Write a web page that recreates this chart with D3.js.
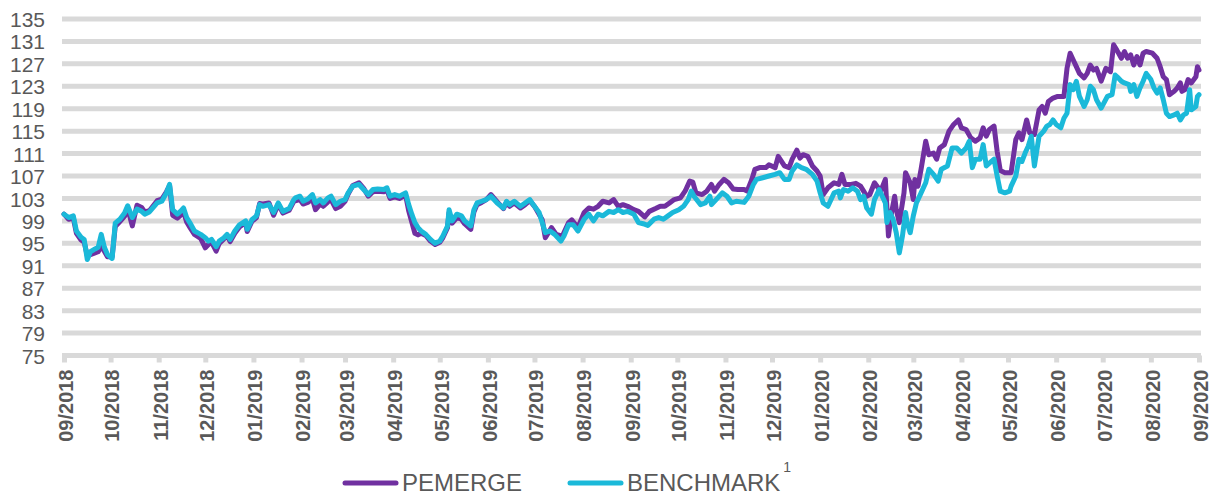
<!DOCTYPE html>
<html>
<head>
<meta charset="utf-8">
<script src="https://cdn.jsdelivr.net/npm/d3@7"></script>
<style>
  html, body { margin: 0; padding: 0; background: #fff; }
  svg { display: block; }
  text { font-family: "Liberation Sans", Arial, sans-serif; fill: #595959; }
</style>
</head>
<body>
<svg id="chart" width="1209" height="495"></svg>
<script>
// ---------------- DATA ----------------
const seriesNames = ["PEMERGE", "BENCHMARK"];
const yTickValues = [75, 79, 83, 87, 91, 95, 99, 103, 107, 111, 115, 119, 123, 127, 131, 135];
const xStart = "2018-09-01";
const xEnd = "2020-09-01";

const benchmarkDates = [
  "2018-09-01","2018-09-04","2018-09-07","2018-09-09","2018-09-12","2018-09-14","2018-09-16","2018-09-18","2018-09-21","2018-09-23","2018-09-25","2018-09-27","2018-09-29",
  "2018-10-02","2018-10-04","2018-10-07","2018-10-10","2018-10-12","2018-10-15","2018-10-18","2018-10-21","2018-10-23","2018-10-26","2018-10-31",
  "2018-11-03","2018-11-06","2018-11-08","2018-11-10","2018-11-13","2018-11-15","2018-11-17","2018-11-19","2018-11-21","2018-11-24","2018-11-28",
  "2018-12-01","2018-12-03","2018-12-05","2018-12-08","2018-12-10","2018-12-13","2018-12-15","2018-12-17","2018-12-20","2018-12-23","2018-12-27","2018-12-28","2018-12-31",
  "2019-01-03","2019-01-05","2019-01-07","2019-01-11","2019-01-14","2019-01-17","2019-01-20","2019-01-24","2019-01-27","2019-01-28","2019-01-31",
  "2019-02-02","2019-02-05","2019-02-08","2019-02-10","2019-02-13","2019-02-15","2019-02-18","2019-02-20","2019-02-23","2019-02-26",
  "2019-03-01","2019-03-03","2019-03-06","2019-03-10","2019-03-13","2019-03-16","2019-03-19","2019-03-22","2019-03-26","2019-03-28","2019-03-30",
  "2019-04-02","2019-04-05","2019-04-09","2019-04-11","2019-04-13","2019-04-15","2019-04-17","2019-04-19","2019-04-22","2019-04-25","2019-04-28",
  "2019-05-01","2019-05-03","2019-05-06","2019-05-07","2019-05-09","2019-05-12","2019-05-15","2019-05-17","2019-05-21","2019-05-23","2019-05-25","2019-05-28","2019-05-31",
  "2019-06-03","2019-06-07","2019-06-11","2019-06-13","2019-06-15","2019-06-18","2019-06-22","2019-06-25","2019-06-28",
  "2019-07-01","2019-07-04","2019-07-06","2019-07-08","2019-07-11","2019-07-14","2019-07-18","2019-07-20","2019-07-23","2019-07-26","2019-07-29",
  "2019-08-02","2019-08-05","2019-08-08","2019-08-11","2019-08-14","2019-08-18","2019-08-21","2019-08-24","2019-08-27","2019-08-30",
  "2019-09-03","2019-09-06","2019-09-09","2019-09-12","2019-09-16","2019-09-19","2019-09-22","2019-09-25","2019-09-28",
  "2019-10-02","2019-10-05","2019-10-08","2019-10-10","2019-10-12","2019-10-16","2019-10-19","2019-10-22","2019-10-23","2019-10-26","2019-10-30",
  "2019-11-02","2019-11-05","2019-11-08","2019-11-13","2019-11-16","2019-11-19","2019-11-21","2019-11-25","2019-11-29",
  "2019-12-03","2019-12-06","2019-12-09","2019-12-12","2019-12-14","2019-12-17","2019-12-20","2019-12-23","2019-12-27","2019-12-30",
  "2020-01-01","2020-01-03","2020-01-06","2020-01-10","2020-01-13","2020-01-14","2020-01-16","2020-01-19","2020-01-22","2020-01-25","2020-01-27","2020-01-29","2020-01-31",
  "2020-02-03","2020-02-05","2020-02-08","2020-02-10","2020-02-12","2020-02-13","2020-02-15","2020-02-17","2020-02-19","2020-02-21","2020-02-23","2020-02-25","2020-02-26","2020-02-28",
  "2020-03-01","2020-03-03","2020-03-06","2020-03-09","2020-03-11","2020-03-14","2020-03-17","2020-03-19","2020-03-23","2020-03-26","2020-03-29",
  "2020-04-01","2020-04-04","2020-04-06","2020-04-08","2020-04-10","2020-04-13","2020-04-15","2020-04-17","2020-04-19","2020-04-22","2020-04-24","2020-04-26","2020-04-29",
  "2020-05-02","2020-05-03","2020-05-06","2020-05-08","2020-05-10","2020-05-12","2020-05-14","2020-05-16","2020-05-18","2020-05-21","2020-05-24","2020-05-26","2020-05-28","2020-05-30",
  "2020-06-01","2020-06-04","2020-06-06","2020-06-08","2020-06-10","2020-06-12","2020-06-14","2020-06-16","2020-06-19","2020-06-21","2020-06-23","2020-06-25","2020-06-27","2020-06-30",
  "2020-07-04","2020-07-07","2020-07-09","2020-07-11","2020-07-13","2020-07-15","2020-07-18","2020-07-19","2020-07-21","2020-07-23","2020-07-25","2020-07-27","2020-07-29",
  "2020-08-01","2020-08-03","2020-08-05","2020-08-07","2020-08-09","2020-08-11","2020-08-13","2020-08-16","2020-08-18","2020-08-20","2020-08-22","2020-08-24","2020-08-26","2020-08-27","2020-08-30","2020-08-31","2020-09-01"
];
const benchmarkValues = [
  100.2,99.6,99.9,97.2,96.1,95.7,92.1,93.5,94.0,94.3,96.6,94.3,93.0,
  92.3,98.6,99.3,100.4,101.7,99.6,101.1,100.7,100.2,100.6,102.2,
  102.5,104.0,105.5,101.0,100.2,100.7,101.3,99.6,98.7,97.2,96.6,
  96.0,95.4,95.7,94.4,95.4,96.0,96.6,95.7,97.2,98.3,99.0,97.5,99.2,
  99.9,101.9,101.6,101.9,100.5,102.2,100.7,101.2,102.8,103.1,103.4,
  102.5,102.9,103.7,102.2,102.8,102.2,103.1,103.4,101.9,102.5,
  102.8,104.0,105.2,105.5,104.6,103.7,104.6,104.7,104.6,104.9,103.4,
  103.7,103.4,104.0,101.9,100.2,98.7,97.8,97.2,96.6,95.7,95.0,
  95.4,96.3,98.1,101.0,99.0,100.2,99.9,99.0,98.1,101.0,102.2,102.5,102.8,
  103.4,102.2,101.3,102.5,101.9,102.5,101.6,102.2,102.8,
  101.6,100.5,98.7,96.9,97.2,96.6,95.4,96.3,98.3,98.3,97.2,
  99.3,100.2,99.0,100.2,99.9,100.7,100.5,101.0,100.5,100.7,
  100.2,98.7,98.5,98.2,99.3,99.6,99.3,99.9,100.5,
  101.0,101.6,102.8,104.3,103.3,101.9,102.2,103.4,101.9,102.8,104.0,
  103.4,102.2,102.5,102.3,103.4,105.5,106.4,106.7,107.0,
  107.3,107.6,106.4,106.4,107.9,109.0,108.5,108.2,107.3,106.1,
  104.0,102.2,101.6,104.0,104.3,103.1,104.6,104.3,104.9,104.3,102.8,103.4,101.3,
  100.2,102.8,104.6,103.4,102.2,98.7,100.5,99.3,96.9,93.3,96.3,100.5,98.7,96.9,
  99.9,102.2,104.0,105.8,108.2,107.3,106.1,108.2,108.8,112.0,112.0,
  111.1,112.0,113.2,108.5,110.0,110.0,112.6,108.8,109.3,110.0,107.0,104.3,104.0,
  104.3,105.2,107.0,110.0,109.6,111.1,112.3,114.1,108.8,114.1,115.0,115.9,116.2,117.0,
  116.2,115.6,117.3,118.2,123.3,122.4,123.9,121.2,119.4,120.6,123.0,122.4,120.6,119.1,
  121.2,121.5,125.0,124.5,123.9,123.6,123.3,122.1,123.3,121.2,122.7,123.9,125.3,
  124.2,122.7,121.8,122.7,120.6,118.2,117.6,117.9,118.2,117.0,117.9,118.2,122.4,118.8,119.4,121.2,121.5
];

const pemergeDates = [
  "2018-09-01","2018-09-04","2018-09-07","2018-09-09","2018-09-12","2018-09-14","2018-09-16","2018-09-18","2018-09-21","2018-09-23","2018-09-25","2018-09-27","2018-09-29",
  "2018-10-02","2018-10-04","2018-10-07","2018-10-10","2018-10-12","2018-10-15","2018-10-18","2018-10-21","2018-10-23","2018-10-26","2018-10-31",
  "2018-11-03","2018-11-06","2018-11-08","2018-11-10","2018-11-13","2018-11-15","2018-11-17","2018-11-19","2018-11-21","2018-11-24","2018-11-28",
  "2018-12-01","2018-12-03","2018-12-05","2018-12-08","2018-12-10","2018-12-13","2018-12-15","2018-12-17","2018-12-20","2018-12-23","2018-12-27","2018-12-28","2018-12-31",
  "2019-01-03","2019-01-05","2019-01-07","2019-01-11","2019-01-14","2019-01-17","2019-01-20","2019-01-24","2019-01-27","2019-01-28","2019-01-31",
  "2019-02-02","2019-02-05","2019-02-08","2019-02-10","2019-02-13","2019-02-15","2019-02-18","2019-02-20","2019-02-23","2019-02-26",
  "2019-03-01","2019-03-03","2019-03-06","2019-03-10","2019-03-13","2019-03-16","2019-03-19","2019-03-22","2019-03-26","2019-03-28","2019-03-30",
  "2019-04-02","2019-04-05","2019-04-09","2019-04-11","2019-04-13","2019-04-15","2019-04-17","2019-04-19","2019-04-22","2019-04-25","2019-04-28",
  "2019-05-01","2019-05-03","2019-05-06","2019-05-07","2019-05-09","2019-05-12","2019-05-15","2019-05-17","2019-05-21","2019-05-23","2019-05-25","2019-05-28","2019-05-31",
  "2019-06-03","2019-06-07","2019-06-11","2019-06-13","2019-06-15","2019-06-18","2019-06-22","2019-06-25","2019-06-28",
  "2019-07-01","2019-07-06","2019-07-08","2019-07-12","2019-07-15","2019-07-19","2019-07-23","2019-07-25","2019-07-29",
  "2019-08-02","2019-08-05","2019-08-08","2019-08-11","2019-08-14","2019-08-18","2019-08-21","2019-08-24","2019-08-27","2019-08-30",
  "2019-09-03","2019-09-06","2019-09-10","2019-09-13","2019-09-17","2019-09-20","2019-09-23","2019-09-26","2019-09-29",
  "2019-10-03","2019-10-06","2019-10-09","2019-10-11","2019-10-13","2019-10-17","2019-10-20","2019-10-23","2019-10-25","2019-10-28","2019-10-31",
  "2019-11-03","2019-11-06","2019-11-09","2019-11-13","2019-11-15","2019-11-18","2019-11-20","2019-11-23","2019-11-27","2019-11-29",
  "2019-12-03","2019-12-05","2019-12-09","2019-12-12","2019-12-14","2019-12-17","2019-12-19","2019-12-21","2019-12-24","2019-12-27","2019-12-30",
  "2020-01-01","2020-01-03","2020-01-06","2020-01-10","2020-01-13","2020-01-15","2020-01-17","2020-01-21","2020-01-24","2020-01-27","2020-01-29","2020-01-31",
  "2020-02-02","2020-02-05","2020-02-09","2020-02-12","2020-02-14","2020-02-16","2020-02-18","2020-02-19","2020-02-21","2020-02-24","2020-02-25","2020-02-28",
  "2020-03-01","2020-03-02","2020-03-04","2020-03-06","2020-03-09","2020-03-11","2020-03-14","2020-03-16","2020-03-18","2020-03-21","2020-03-24","2020-03-27","2020-03-30",
  "2020-04-01","2020-04-04","2020-04-07","2020-04-10","2020-04-13","2020-04-15","2020-04-17","2020-04-19","2020-04-22","2020-04-24","2020-04-26","2020-04-29",
  "2020-05-03","2020-05-06","2020-05-08","2020-05-10","2020-05-13","2020-05-15","2020-05-18","2020-05-21","2020-05-23","2020-05-25","2020-05-27","2020-05-30",
  "2020-06-02","2020-06-06","2020-06-08","2020-06-10","2020-06-12","2020-06-14","2020-06-16","2020-06-19","2020-06-21","2020-06-23","2020-06-25","2020-06-27","2020-06-30",
  "2020-07-03","2020-07-06","2020-07-08","2020-07-10","2020-07-13","2020-07-15","2020-07-17","2020-07-19","2020-07-21","2020-07-23","2020-07-25","2020-07-27","2020-07-29",
  "2020-08-02","2020-08-05","2020-08-07","2020-08-09","2020-08-11","2020-08-13","2020-08-16","2020-08-18","2020-08-20","2020-08-21","2020-08-23","2020-08-25","2020-08-27","2020-08-30","2020-08-31","2020-09-01"
];
const pemergeValues = [
  100.2,99.3,99.5,96.8,95.6,95.2,92.8,93.0,93.3,93.5,94.5,93.6,92.6,
  92.6,98.0,98.9,99.8,101.2,98.1,101.8,101.4,100.6,100.8,102.6,
  102.9,104.2,105.3,100.0,99.5,100.0,100.6,98.8,97.9,96.6,95.9,
  94.2,94.8,95.2,93.6,95.0,95.8,96.4,95.3,96.8,97.9,98.7,97.1,98.9,
  99.6,102.1,102.0,102.2,100.0,102.0,100.4,100.9,102.5,102.6,102.8,
  102.0,102.3,102.9,101.0,102.0,101.6,102.4,102.8,101.2,101.6,
  102.5,103.8,105.3,105.8,104.8,103.4,104.2,104.3,104.2,104.5,103.0,
  103.3,103.0,103.6,100.8,98.8,96.8,96.5,96.8,96.4,95.4,94.8,
  95.2,96.0,97.8,100.5,98.6,99.6,99.3,98.5,97.5,100.6,101.9,102.3,102.8,
  103.7,102.4,101.2,102.3,101.6,102.2,101.3,101.9,102.6,
  101.6,99.2,96.0,97.8,96.6,96.3,98.7,99.2,97.8,
  100.5,101.3,101.1,101.6,102.5,102.2,102.8,101.6,101.9,101.6,
  101.0,100.7,99.7,100.7,101.2,101.6,101.6,102.2,102.8,
  103.1,104.3,106.1,105.9,104.0,103.7,104.3,105.5,104.3,105.5,106.4,
  105.8,104.7,104.6,104.6,104.3,106.4,108.2,108.5,108.5,109.0,
  108.5,110.5,108.8,108.5,110.0,111.6,110.2,110.8,110.5,108.8,107.9,
  107.0,103.7,104.9,105.8,105.5,107.3,105.5,105.5,105.7,105.2,104.3,103.4,
  103.7,105.8,104.3,106.4,96.3,100.5,103.4,101.0,98.7,104.0,107.6,105.8,
  102.8,106.4,105.2,108.2,113.2,110.8,111.1,110.0,112.0,112.6,115.0,116.2,117.0,
  115.6,115.3,113.8,113.2,113.8,115.6,114.1,115.3,115.9,111.4,108.0,107.6,
  107.6,113.5,114.7,113.5,117.0,114.7,114.4,118.8,119.4,118.2,120.3,120.9,
  121.2,121.2,126.2,128.9,127.7,126.5,125.3,124.5,125.3,126.8,125.9,126.2,123.9,
  126.2,125.6,130.4,129.5,128.0,129.2,128.0,128.6,126.8,128.3,126.8,128.9,129.2,
  128.9,128.0,126.5,124.7,124.2,121.5,122.1,122.7,123.6,122.1,122.4,124.2,123.6,124.7,126.5,125.9
];

const seriesColors = ["#7030a0", "#1bb9d9"];

// ---------------- CHART ----------------
const svg = d3.select("#chart");
const parse = d3.utcParse("%Y-%m-%d");

const plotLeft = 64, plotRight = 1199, plotTop = 19, plotBottom = 355.5;

const x = d3.scaleUtc().domain([parse(xStart), parse(xEnd)]).range([plotLeft, plotRight]);
const y = d3.scaleLinear().domain([75, 135]).range([plotBottom, plotTop]);

// gridlines
svg.append("g").selectAll("line")
  .data(yTickValues)
  .join("line")
  .attr("x1", plotLeft - 2)
  .attr("x2", plotRight + 2)
  .attr("y1", d => y(d))
  .attr("y2", d => y(d))
  .attr("stroke", "#d9d9d9")
  .attr("stroke-width", 5);

// y axis labels
const yAxis = d3.axisLeft(y).tickValues(yTickValues).tickSize(0).tickPadding(0).tickFormat(d3.format("d"));
const gy = svg.append("g").attr("transform", `translate(${plotLeft - 19},0)`).call(yAxis);
gy.select(".domain").remove();
gy.selectAll("text")
  .attr("font-size", 21)
  .attr("font-family", "Liberation Sans, Arial, sans-serif")
  .attr("fill", "#595959")
  .attr("dy", "0.36em");

// x axis
const months = d3.utcMonth.range(parse(xStart), d3.utcDay.offset(parse(xEnd), 1));
const xAxis = d3.axisBottom(x).tickValues(months).tickSize(7).tickFormat(d3.utcFormat("%m/%Y"));
const gx = svg.append("g").attr("transform", `translate(0,${plotBottom})`).call(xAxis);
gx.select(".domain").remove();
gx.selectAll(".tick line").attr("stroke", "#d9d9d9").attr("stroke-width", 5);
gx.selectAll("text")
  .attr("transform", "rotate(-90)")
  .attr("x", -14)
  .attr("y", 0)
  .attr("dy", "0.42em")
  .attr("text-anchor", "end")
  .attr("font-size", 20)
  .attr("font-weight", "bold")
  .attr("font-family", "Liberation Sans, Arial, sans-serif")
  .attr("fill", "#595959");

// series
const series = [
  { name: seriesNames[0], dates: pemergeDates, values: pemergeValues, color: seriesColors[0] },
  { name: seriesNames[1], dates: benchmarkDates, values: benchmarkValues, color: seriesColors[1] }
];
const line = d3.line().x(d => x(d[0])).y(d => y(d[1]));
series.forEach(s => {
  const pts = s.dates.map((d, i) => [parse(d), s.values[i]]);
  svg.append("path")
    .datum(pts)
    .attr("d", line)
    .attr("fill", "none")
    .attr("stroke", s.color)
    .attr("stroke-width", 5)
    .attr("stroke-linejoin", "round")
    .attr("stroke-linecap", "round");
});

// legend
const legendItems = [
  { name: seriesNames[0], color: seriesColors[0], x: 345 },
  { name: seriesNames[1], color: seriesColors[1], x: 570 }
];
const lg = svg.append("g");
legendItems.forEach((it, i) => {
  lg.append("line")
    .attr("x1", it.x).attr("x2", it.x + 51)
    .attr("y1", 483).attr("y2", 483)
    .attr("stroke", it.color).attr("stroke-width", 5).attr("stroke-linecap", "round");
  const t = lg.append("text")
    .attr("x", it.x + 57).attr("y", 491)
    .attr("font-size", 24)
    .attr("fill", "#595959")
    .text(it.name);
  if (i === 1) {
    t.append("tspan").attr("font-size", 14).attr("dx", 3).attr("dy", -19).text("1");
  }
});
</script>
</body>
</html>
